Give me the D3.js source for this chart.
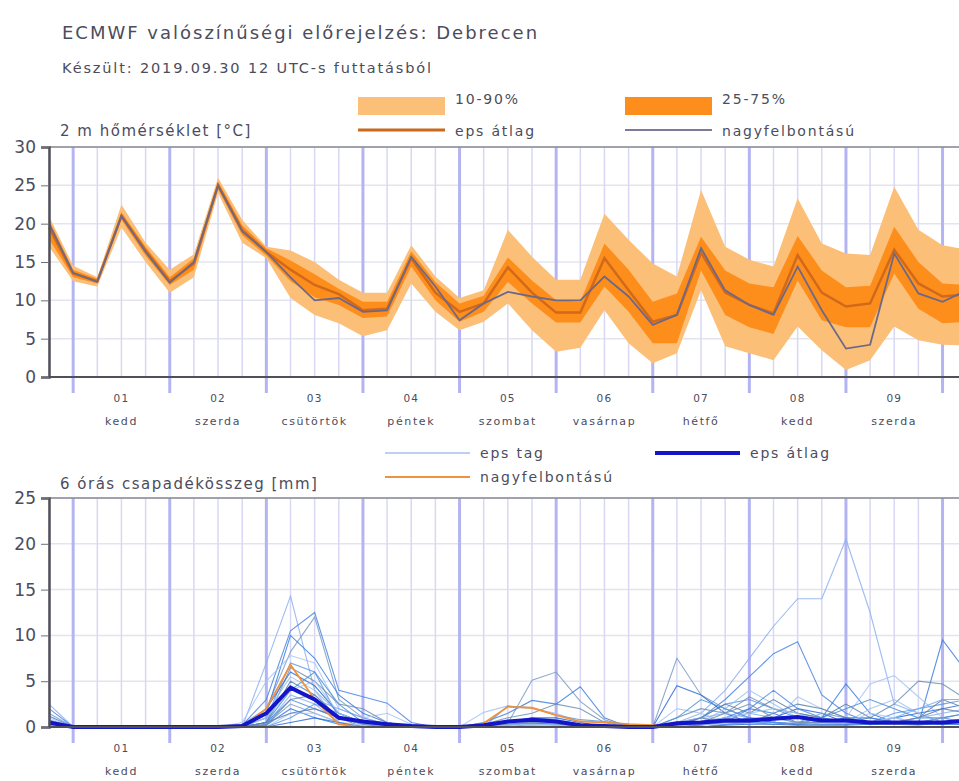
<!DOCTYPE html>
<html>
<head>
<meta charset="utf-8">
<script src="https://cdn.jsdelivr.net/npm/d3@7"></script>
<style>
	body { margin: 0; background: #fff; }
	svg { display: block; font-family: 'DejaVu Sans', sans-serif; }
	text { fill: #4c4c5c; }
</style>
</head>
<body>
<script>
// 2 m temperature, 6-hourly from 2019-09-30 18 UTC
const tHires = [20, 13.6, 12.4, 21, 16.3, 12.3, 15, 25, 19, 16.3, 13, 10, 10.3, 8.5, 8.7, 15.7, 11.8, 7.4, 9.6, 11.1, 10.5, 10, 10, 13.1, 10.5, 6.8, 8.1, 16.8, 11.3, 9.4, 8.1, 14.4, 8.7, 3.7, 4.2, 16.1, 10.9, 9.8, 11.3]
const tMean = [19.5, 13.5, 12.5, 21, 16.5, 12.5, 14.8, 25, 19.2, 16.3, 14, 12, 10.8, 8.7, 8.9, 15.5, 11, 8.5, 9.6, 14.3, 11, 8.4, 8.4, 15.5, 11.3, 7.2, 8.1, 16.2, 11, 9.4, 8.3, 15.9, 11, 9.2, 9.6, 16.6, 12.2, 10.5, 10.8]
const tP10 = [17, 12.5, 11.8, 19.5, 15, 11, 13, 24, 17.5, 15.5, 10.3, 8.1, 7.0, 5.3, 6.1, 12.2, 8.5, 6.1, 7.2, 9.6, 6.1, 3.3, 3.8, 8.7, 4.4, 1.8, 3.1, 11.3, 4, 3.1, 2.2, 6.6, 3.5, 0.9, 2.2, 6.6, 4.8, 4.2, 4.1]
const tP90 = [21, 14.5, 13, 22.5, 17.5, 14, 16, 26, 20.5, 17, 16.5, 15, 12.7, 11, 11, 17.2, 13.1, 10.3, 11.3, 19.2, 15.7, 12.7, 12.7, 21.3, 17.9, 14.8, 13.1, 24.4, 17, 15.3, 14.4, 23.3, 17.4, 16.1, 15.9, 24.8, 19.2, 17.2, 16.6]
const tP25 = [18, 13, 12.2, 20.5, 15.8, 12, 14, 24.5, 18.5, 15.8, 12.5, 10.4, 9.4, 7.7, 7.9, 14.4, 10, 7.2, 8.5, 12.4, 9.6, 7.1, 7.1, 11.8, 8.5, 4.4, 4.4, 13.9, 8.1, 6.5, 5.6, 12.6, 7.4, 6.5, 6.5, 13.5, 8.9, 7.0, 7.2]
const tP75 = [20.5, 14, 12.8, 21.5, 17, 13, 15.5, 25.5, 19.8, 16.8, 15.2, 13.4, 11.5, 9.8, 9.8, 16.4, 12.4, 9.6, 10.6, 15.6, 12.6, 10, 9.8, 17.4, 14, 9.8, 10.9, 18.3, 13.9, 12.2, 11.7, 18.4, 13.9, 11.7, 11.9, 19.6, 15, 12.2, 12]

// 6 hour precipitation [mm]
const pHires = [0.3, 0, 0, 0, 0, 0, 0, 0, 0, 2, 6.8, 3, 0.3, 0, 0, 0, 0, 0, 0.4, 2.2, 2.1, 1.3, 0.6, 0.5, 0.3, 0.2, 0, 0, 0, 0, 0, 0, 0, 0, 0, 0, 0, 0, 0]
const pMean = [0.5, 0, 0, 0, 0, 0, 0, 0, 0.1, 1.5, 4.3, 3, 1, 0.6, 0.3, 0.1, 0, 0, 0.2, 0.6, 0.8, 0.6, 0.2, 0.1, 0, 0, 0.4, 0.5, 0.7, 0.7, 0.9, 1.1, 0.7, 0.7, 0.5, 0.5, 0.5, 0.5, 0.7]
const pMembers = [
	[2.5, 0, 0, 0, 0, 0, 0, 0, 0, 7, 14.3, 4, 1.5, 0.5, 0, 0, 0, 0, 0, 0.3, 0.5, 0.2, 0, 0, 0, 0, 0.5, 1.5, 4, 7.5, 11, 14, 14, 20.5, 12.5, 2.5, 1.5, 0.5, 0.5],
	[2, 0, 0, 0, 0, 0, 0, 0, 0.2, 3, 10.5, 12.5, 4, 3.3, 2.6, 0.5, 0, 0, 0.2, 0.5, 1, 0.8, 0.3, 0, 0, 0, 0, 1, 3, 5.5, 8, 9.3, 3.5, 1.5, 0.5, 0.3, 0.5, 1, 1.5],
	[1.5, 0, 0, 0, 0, 0, 0, 0, 0.3, 2, 8.2, 12, 3, 1, 0.3, 0, 0, 0, 0, 0.4, 5.1, 6, 2.8, 0.8, 0, 0, 7.5, 3.5, 2, 1, 0.5, 0.3, 0.5, 1, 0.5, 0.3, 0.2, 0.5, 0.3],
	[1.2, 0, 0, 0, 0, 0, 0, 0, 0, 1.5, 10, 7.5, 3.5, 1.5, 0.5, 0, 0, 0, 0.5, 1.5, 2.9, 2.5, 4.4, 1, 0, 0, 0.3, 0.5, 1, 2, 1.5, 0.5, 1, 4.7, 1.5, 0.5, 0.3, 9.5, 6],
	[1, 0, 0, 0, 0, 0, 0, 0, 0.5, 5, 7.8, 7, 2, 1, 1.5, 0.3, 0, 0, 1.6, 2.3, 2, 1.5, 0.5, 0, 0, 0, 2, 1.5, 0.5, 0.3, 0.5, 3.3, 2, 1, 4.7, 5.6, 3.3, 1, 0.5],
	[0.8, 0, 0, 0, 0, 0, 0, 0, 0, 1, 7, 6, 1, 0.3, 0, 0, 0, 0, 0, 2.3, 2.1, 1.3, 0.8, 0.6, 0.3, 0, 0.5, 1, 2.5, 3, 2, 1, 0.5, 0.3, 0.5, 1.5, 2, 2.5, 3],
	[0.6, 0, 0, 0, 0, 0, 0, 0, 0, 0.5, 6.5, 5, 2.5, 2, 0.5, 0, 0, 0, 0.3, 1, 1.5, 2.5, 2, 0.5, 0, 0, 1, 2, 1.5, 3.3, 2, 1.5, 1, 0.5, 1, 2.5, 5, 4.7, 3],
	[0.5, 0, 0, 0, 0, 0, 0, 0, 0, 2, 6, 4.5, 1.5, 0.5, 0, 0, 0, 0, 0, 0.5, 1, 1, 0.5, 0, 0, 0, 4.5, 3.5, 1.5, 0.5, 1, 2, 1.5, 0.5, 0.3, 1, 1.5, 2, 2.5],
	[0.4, 0, 0, 0, 0, 0, 0, 0, 0, 1.5, 5.5, 4, 0.5, 0, 0, 0, 0, 0, 0, 0.2, 0.5, 0.8, 0.3, 0, 0, 0, 0.2, 0.5, 2, 4, 2.5, 1, 0.5, 0.5, 2, 3, 1.5, 0.5, 1],
	[0.3, 0, 0, 0, 0, 0, 0, 0, 0, 0.5, 5, 3.5, 1, 0, 0, 0, 0, 0, 0, 0, 0.3, 0.5, 0.2, 0, 0, 0, 0.3, 1, 2.5, 1.5, 3, 1.5, 1, 2.5, 1, 0.5, 1, 3, 2],
	[0.3, 0, 0, 0, 0, 0, 0, 0, 0, 1, 4.5, 3, 2, 1, 0.3, 0, 0, 0, 0, 0.3, 0.6, 0.4, 0, 0, 0, 0, 0, 0.5, 1, 1.5, 1, 1, 0.5, 0.5, 0.5, 1, 2, 3, 3],
	[0.2, 0, 0, 0, 0, 0, 0, 0, 0, 0.5, 4, 6, 2.5, 0.5, 0, 0, 0, 0, 0, 0, 0.2, 0.3, 0, 0, 0, 0, 1, 3, 2, 1, 0.5, 0.3, 1, 2, 3, 2, 1, 1, 1.5],
	[0.2, 0, 0, 0, 0, 0, 0, 0, 0, 0.3, 3.5, 2.5, 0.5, 0, 0, 0, 0, 0, 0, 0, 0, 0, 0, 0, 0, 0, 0.5, 1, 1.5, 1, 1, 0.5, 0.3, 0.3, 0.5, 0.5, 1, 1.5, 2],
	[0.2, 0, 0, 0, 0, 0, 0, 0, 0, 0.5, 3, 2, 1, 0.3, 0, 0, 0, 0, 0, 0.2, 0.4, 0.2, 0, 0, 0, 0, 0, 0.3, 0.5, 2, 4, 2, 1, 0.5, 0.3, 0.3, 0.5, 0.5, 1],
	[0.1, 0, 0, 0, 0, 0, 0, 0, 0, 0.3, 2.5, 1.5, 0.5, 0, 0, 0, 0, 0, 0, 0, 0, 0, 0, 0, 0, 0, 0.3, 0.5, 1, 0.5, 0.3, 0.5, 1.5, 1, 0.5, 0.3, 0.5, 1, 0.5],
	[0.1, 0, 0, 0, 0, 0, 0, 0, 0, 0.2, 2, 1, 0.3, 0, 0, 0, 0, 0, 0, 0, 0, 0, 0, 0, 0, 0, 0, 0.2, 0.5, 1, 0.5, 0.3, 0.5, 1, 1, 0.5, 0.3, 0.5, 0.5],
	[0.1, 0, 0, 0, 0, 0, 0, 0, 0, 0, 1.5, 1.5, 0.5, 0.2, 0, 0, 0, 0, 0, 0, 0.2, 0.2, 0, 0, 0, 0, 0.2, 0.3, 0.3, 0.5, 1, 0.5, 0.3, 0.5, 1.5, 1, 0.5, 0.3, 0.5],
	[0, 0, 0, 0, 0, 0, 0, 0, 0, 0, 1, 2.5, 1.5, 0.5, 0, 0, 0, 0, 0, 0, 0, 0, 0, 0, 0, 0, 0, 0, 0.3, 0.5, 0.5, 0.3, 0.3, 0.3, 0.5, 0.5, 0.5, 0.3, 0.3],
	[0, 0, 0, 0, 0, 0, 0, 0, 0, 0.2, 3, 3.5, 1, 0.3, 0, 0, 0, 0, 0, 0.3, 0.5, 0.3, 0, 0, 0, 0, 0.2, 0.5, 1.5, 2.5, 1, 0.5, 0.5, 0.5, 0.3, 0.3, 0.3, 0.5, 1],
	[0, 0, 0, 0, 0, 0, 0, 0, 0, 0, 0.5, 1, 0.5, 0, 0, 0, 0, 0, 0, 0, 0, 0, 0, 0, 0, 0, 0, 0, 0.2, 0.3, 0.3, 0.2, 0.2, 0.2, 0.3, 0.5, 0.3, 0.3, 0.3],
	[0.2, 0, 0, 0, 0, 0, 0, 0, 0, 1, 4, 5, 1.5, 0.5, 0, 0, 0, 0, 0, 0.2, 0.3, 0.2, 0, 0, 0, 0, 0, 0.5, 1, 1.5, 2, 1.5, 0.5, 0.5, 0.5, 1, 0.5, 0.5, 1],
	[0.1, 0, 0, 0, 0, 0, 0, 0, 0, 0.5, 1.5, 2, 1, 0.5, 0.3, 0, 0, 0, 0, 0, 0, 0, 0, 0, 0, 0, 0.2, 1, 0.5, 0.5, 1.5, 2.5, 2, 1, 0.5, 0.5, 1, 2, 1.5],
]

const dayNums = ['01', '02', '03', '04', '05', '06', '07', '08', '09']
const dayNames = ['kedd', 'szerda', 'csütörtök', 'péntek', 'szombat', 'vasárnap', 'hétfő', 'kedd', 'szerda']
const tTicks = [0, 5, 10, 15, 20, 25, 30]
const pTicks = [0, 5, 10, 15, 20, 25]

const width = 959, height = 781
const svg = d3.select('body').append('svg').attr('width', width).attr('height', height)

const t0 = new Date(Date.UTC(2019, 8, 30, 18))
const times = tHires.map((_, i) => d3.utcHour.offset(t0, 6 * i))
const x = d3.scaleUtc().domain([t0, times[times.length - 1]]).range([49, 49 + 38 * 24.15])
const gridTimes = d3.utcHour.every(6).range(t0, d3.utcHour.offset(t0, 6 * 40))
const dayStarts = d3.utcDay.range(d3.utcDay.ceil(t0), d3.utcHour.offset(t0, 6 * 40))

// titles
svg.append('text').attr('x', 62).attr('y', 39).style('font-size', '18px').style('letter-spacing', '2px')
	.text('ECMWF valószínűségi előrejelzés: Debrecen')
svg.append('text').attr('x', 62).attr('y', 73).style('font-size', '14.5px').style('letter-spacing', '1.85px')
	.text('Készült: 2019.09.30 12 UTC-s futtatásból')

function panel(top, bottom, yMax, ticks, label, labelY) {
	const y = d3.scaleLinear().domain([0, yMax]).range([bottom, top])
	const g = svg.append('g')
	// horizontal grid
	g.selectAll('line.hg').data(ticks.slice(1)).join('line').classed('hg', true)
		.attr('x1', 49).attr('x2', width).attr('y1', d => y(d)).attr('y2', d => y(d))
		.attr('stroke', '#e4e4f0').attr('stroke-width', 1.5)
	// thin 6 hour lines
	g.selectAll('line.vg').data(gridTimes).join('line').classed('vg', true)
		.attr('x1', d => x(d)).attr('x2', d => x(d)).attr('y1', top).attr('y2', bottom)
		.attr('stroke', '#d8d8f4').attr('stroke-width', 1.5)
	// day lines
	g.selectAll('line.day').data(dayStarts).join('line').classed('day', true)
		.attr('x1', d => x(d)).attr('x2', d => x(d)).attr('y1', top).attr('y2', bottom + 16)
		.attr('stroke', '#b4b4f2').attr('stroke-width', 3)
	// day labels
	const lab = g.selectAll('g.lab').data(dayNums).join('g').classed('lab', true)
		.attr('transform', (_, i) => `translate(${x(d3.utcHour.offset(dayStarts[i], 12))},0)`)
	lab.append('text').attr('y', bottom + 25).attr('text-anchor', 'middle')
		.style('font-size', '10.5px').style('letter-spacing', '1.2px').text(d => d)
	lab.append('text').attr('y', bottom + 48).attr('text-anchor', 'middle')
		.style('font-size', '11px').style('letter-spacing', '1.6px').text((_, i) => dayNames[i])
	// label
	svg.append('text').attr('x', 60).attr('y', labelY).style('font-size', '15px').style('letter-spacing', '1.5px').text(label)
	return y
}

function frame(y, top, bottom, ticks) {
	const g = svg.append('g')
	g.append('line').attr('x1', 49).attr('x2', width).attr('y1', top).attr('y2', top)
		.attr('stroke', '#8a8a94').attr('stroke-width', 1.5)
	g.append('line').attr('x1', 49).attr('x2', width).attr('y1', bottom).attr('y2', bottom)
		.attr('stroke', '#505058').attr('stroke-width', 2)
	const axis = g.append('g').attr('transform', 'translate(49,0)')
		.call(d3.axisLeft(y).tickValues(ticks).tickSize(8).tickPadding(5))
	axis.select('.domain').attr('stroke', '#505058').attr('stroke-width', 2.5)
	axis.selectAll('.tick line').attr('stroke', '#707078')
	axis.selectAll('.tick text').style('font-size', '17px').style('font-family', "'DejaVu Sans', sans-serif").attr('fill', '#55555f')
}

// ---------- temperature ----------
const topT = 147, botT = 377
const yT = panel(topT, botT, 30, tTicks, '2 m hőmérséklet [°C]', 136)
const rows = times.map((t, i) => ({ t, p10: tP10[i], p90: tP90[i], p25: tP25[i], p75: tP75[i], mean: tMean[i], hires: tHires[i] }))
svg.append('path').datum(rows).attr('fill', '#fbbf78')
	.attr('d', d3.area().x(d => x(d.t)).y0(d => yT(d.p10)).y1(d => yT(d.p90)))
svg.append('path').datum(rows).attr('fill', '#fd8e1c')
	.attr('d', d3.area().x(d => x(d.t)).y0(d => yT(d.p25)).y1(d => yT(d.p75)))
svg.append('path').datum(rows).attr('fill', 'none').attr('stroke', '#d2681a').attr('stroke-width', 2.5)
	.attr('d', d3.line().x(d => x(d.t)).y(d => yT(d.mean)))
svg.append('path').datum(rows).attr('fill', 'none').attr('stroke', '#6c6888').attr('stroke-width', 1.8)
	.attr('d', d3.line().x(d => x(d.t)).y(d => yT(d.hires)))
frame(yT, topT, botT, tTicks)

// legend top
const lg = svg.append('g').style('font-size', '14px').style('letter-spacing', '1.8px')
lg.append('rect').attr('x', 358).attr('y', 97).attr('width', 87).attr('height', 18).attr('fill', '#fbbf78')
lg.append('text').attr('x', 455).attr('y', 104).text('10-90%')
lg.append('rect').attr('x', 625).attr('y', 97).attr('width', 87).attr('height', 18).attr('fill', '#fd8e1c')
lg.append('text').attr('x', 722).attr('y', 104).text('25-75%')
lg.append('line').attr('x1', 358).attr('x2', 445).attr('y1', 130).attr('y2', 130).attr('stroke', '#c8691e').attr('stroke-width', 3)
lg.append('text').attr('x', 455).attr('y', 136).text('eps átlag')
lg.append('line').attr('x1', 625).attr('x2', 712).attr('y1', 130).attr('y2', 130).attr('stroke', '#7c7a98').attr('stroke-width', 2)
lg.append('text').attr('x', 722).attr('y', 136).text('nagyfelbontású')

// ---------- precipitation ----------
const topP = 498, botP = 727
const yP = panel(topP, botP, 25, pTicks, '6 órás csapadékösszeg [mm]', 489)
const memberColor = d3.scaleOrdinal(['#8db0ee', '#4a86e4', '#7d9cc4', '#3c7ede', '#a8c4f4', '#5b98e6', '#6e8eae', '#2f6cd6', '#9cc2ec', '#5a80aa', '#77a8f0', '#4a90d6'])
const lineP = d3.line().x((_, i) => x(times[i])).y(d => yP(d))
svg.append('g').selectAll('path').data(pMembers).join('path')
	.attr('fill', 'none').attr('stroke', (_, i) => memberColor(i)).attr('stroke-width', 1.1).attr('stroke-opacity', 0.85)
	.attr('d', lineP)
svg.append('path').datum(pHires).attr('fill', 'none').attr('stroke', '#f0923c').attr('stroke-width', 1.8).attr('d', lineP)
svg.append('path').datum(pMean).attr('fill', 'none').attr('stroke', '#1414c8').attr('stroke-width', 4).attr('d', lineP)
frame(yP, topP, botP, pTicks)

const lb = svg.append('g').style('font-size', '14px').style('letter-spacing', '1.8px')
lb.append('line').attr('x1', 385).attr('x2', 470).attr('y1', 453).attr('y2', 453).attr('stroke', '#a8c0ee').attr('stroke-width', 1.5)
lb.append('text').attr('x', 480).attr('y', 458).text('eps tag')
lb.append('line').attr('x1', 655).attr('x2', 740).attr('y1', 453).attr('y2', 453).attr('stroke', '#1414c8').attr('stroke-width', 4)
lb.append('text').attr('x', 750).attr('y', 458).text('eps átlag')
lb.append('line').attr('x1', 385).attr('x2', 470).attr('y1', 477).attr('y2', 477).attr('stroke', '#f0923c').attr('stroke-width', 2)
lb.append('text').attr('x', 480).attr('y', 482).text('nagyfelbontású')
</script>
</body>
</html>
